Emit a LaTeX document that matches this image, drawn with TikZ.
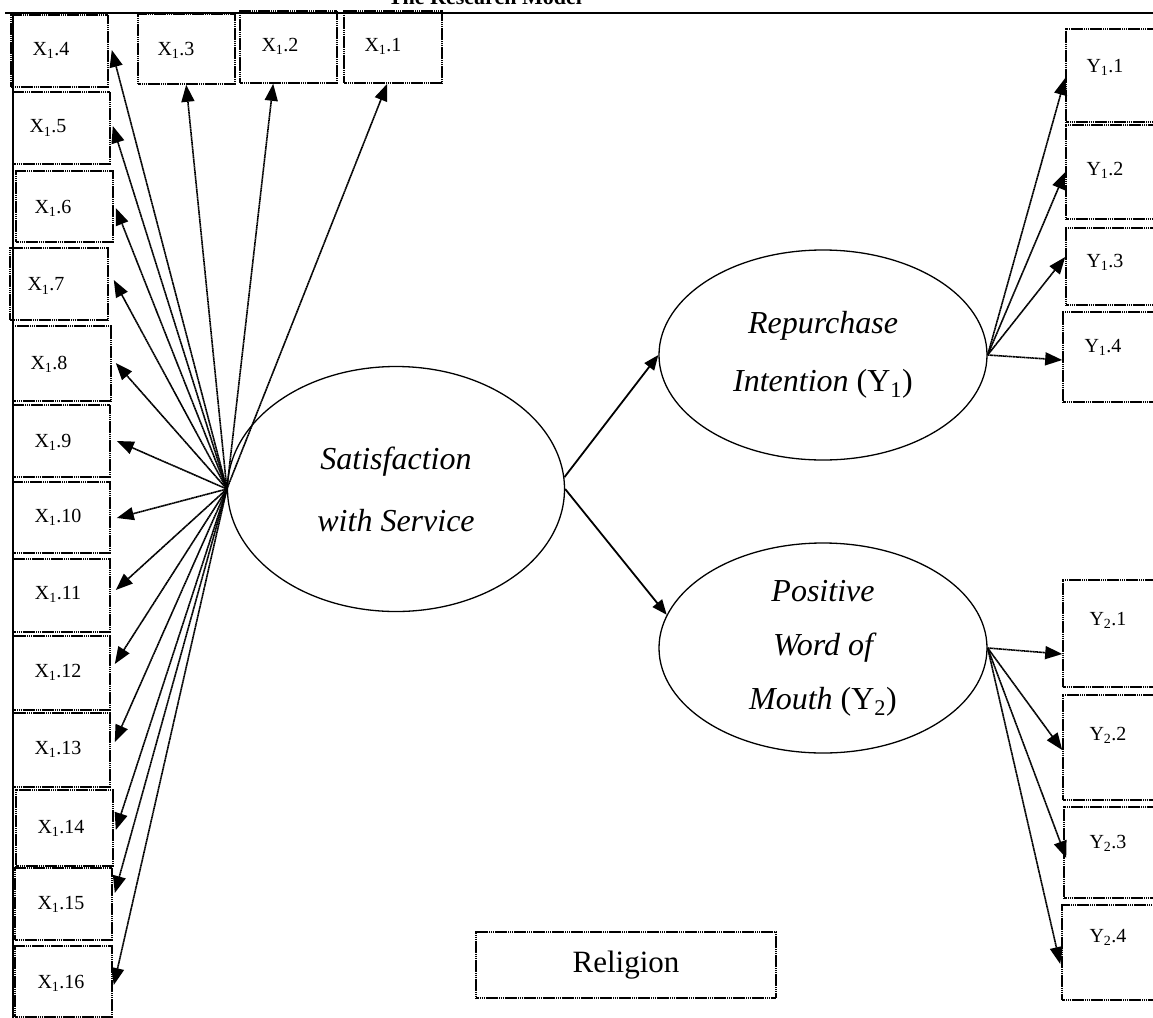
\documentclass[tikz,border=0pt]{standalone}
\usepackage{fontspec}
\setmainfont{Liberation Serif}
\usetikzlibrary{arrows.meta,shapes.geometric,fit,calc}
\begin{document}
\begin{tikzpicture}[x=1pt,y=-1pt,
  box/.style={draw, dash pattern=on 1.5pt off 0.4pt, line width=1.6pt, inner sep=0pt},
  lbl/.style={inner sep=0pt, font=\fontsize{20}{23}\selectfont},
  ell/.style={draw, ellipse, line width=1.3pt, inner sep=0pt, align=center},
  arr/.style={dash pattern=on 1.5pt off 0.4pt, line width=1.6pt, -{Triangle[length=17pt,width=13pt]}},
  sarr/.style={line width=1.8pt, -{Triangle[length=15pt,width=12pt]}}]
\useasboundingbox (0,0) rectangle (1153,1017);
% frame and title
\coordinate (tl) at (5,13);
\coordinate (tr) at (1160,13);
\coordinate (lt) at (13,13);
\coordinate (lb) at (13,1020);
\draw[line width=1.6pt] (tl) -- (tr);
\draw[line width=1.5pt] (lt) -- (lb);
\node[anchor=base, inner sep=0pt, font=\bfseries\fontsize{22}{24}\selectfont] (title) at (485,5) {The Research Model};
% top X boxes
\node[box, fit={(11,15) (108,87)}] (x14) {};
\node[box, fit={(138,14) (235,84)}] (x13) {};
\node[box, fit={(240,11) (337,83)}] (x12) {};
\node[box, fit={(344,11) (442,83)}] (x11) {};
\node[lbl] (x14t) at (51,50) {X\textsubscript{1}.4};
\node[lbl] (x13t) at (176,50) {X\textsubscript{1}.3};
\node[lbl] (x12t) at (280,46) {X\textsubscript{1}.2};
\node[lbl] (x11t) at (383,46) {X\textsubscript{1}.1};
% left column
\node[box, fit={(13,92) (110,164)}] (x15) {};
\node[box, fit={(16,171) (113,242)}] (x16) {};
\node[box, fit={(10,248) (108,320)}] (x17) {};
\node[box, fit={(13,326) (111,401)}] (x18) {};
\node[box, fit={(13,405) (110,477)}] (x19) {};
\node[box, fit={(13,482) (110,553)}] (x110) {};
\node[box, fit={(13,559) (110,632)}] (x111) {};
\node[box, fit={(13,636) (110,710)}] (x112) {};
\node[box, fit={(13,713) (110,787)}] (x113) {};
\node[box, fit={(16,790) (113,866)}] (x114) {};
\node[box, fit={(15,868) (112,940)}] (x115) {};
\node[box, fit={(15,946) (112,1017)}] (x116) {};
\node[lbl] (x15t) at (48,128) {X\textsubscript{1}.5};
\node[lbl] (x16t) at (53,208) {X\textsubscript{1}.6};
\node[lbl] (x17t) at (46,286) {X\textsubscript{1}.7};
\node[lbl] (x18t) at (49,364) {X\textsubscript{1}.8};
\node[lbl] (x19t) at (53,442) {X\textsubscript{1}.9};
\node[lbl] (x110t) at (58,517) {X\textsubscript{1}.10};
\node[lbl] (x111t) at (58,594) {X\textsubscript{1}.11};
\node[lbl] (x112t) at (58,672) {X\textsubscript{1}.12};
\node[lbl] (x113t) at (58,749) {X\textsubscript{1}.13};
\node[lbl] (x114t) at (61,828) {X\textsubscript{1}.14};
\node[lbl] (x115t) at (61,904) {X\textsubscript{1}.15};
\node[lbl] (x116t) at (61,983) {X\textsubscript{1}.16};
% Y boxes
\node[box, fit={(1066,29) (1165,122)}] (y11) {};
\node[box, fit={(1066,125) (1165,219)}] (y12) {};
\node[box, fit={(1066,228) (1165,305)}] (y13) {};
\node[box, fit={(1063,312) (1165,402)}] (y14) {};
\node[box, fit={(1063,580) (1165,687)}] (y21) {};
\node[box, fit={(1063,695) (1165,800)}] (y22) {};
\node[box, fit={(1064,807) (1165,898)}] (y23) {};
\node[box, fit={(1062,905) (1165,1000)}] (y24) {};
\node[lbl] (y11t) at (1105,67) {Y\textsubscript{1}.1};
\node[lbl] (y12t) at (1105,170) {Y\textsubscript{1}.2};
\node[lbl] (y13t) at (1105,262) {Y\textsubscript{1}.3};
\node[lbl] (y14t) at (1103,347) {Y\textsubscript{1}.4};
\node[lbl] (y21t) at (1108,620) {Y\textsubscript{2}.1};
\node[lbl] (y22t) at (1108,735) {Y\textsubscript{2}.2};
\node[lbl] (y23t) at (1108,843) {Y\textsubscript{2}.3};
\node[lbl] (y24t) at (1108,937) {Y\textsubscript{2}.4};
% Religion
\node[box, fit={(476,932) (776,998)}] (rel) {};
\node[inner sep=0pt, font=\fontsize{31}{34}\selectfont] (relt) at (626,965) {Religion};
% ellipses
\node[ell, minimum width=337pt, minimum height=245pt, font=\fontsize{32}{62}\selectfont] (sat) at (396,489) {\itshape Satisfaction\\\itshape with Service};
\node[ell, minimum width=328pt, minimum height=210pt, font=\fontsize{32}{58}\selectfont] (rep) at (823,355) {\itshape Repurchase\\\textit{Intention} (Y\textsubscript{1})};
\node[ell, minimum width=328pt, minimum height=210pt, font=\fontsize{32}{54}\selectfont] (pwom) at (823,648) {\itshape Positive\\\itshape Word of\\\textit{Mouth} (Y\textsubscript{2})};
% structural arrows
\draw[sarr] (sat.4) -- (rep.west);
\draw[sarr] (sat.east) -- (pwom.168);
% X arrows
\draw[arr] (sat.west) -- ($(x14.east |- 0,50)+(3,0)$);
\draw[arr] (sat.west) -- ($(x13.south west)+(49,0)$);
\draw[arr] (sat.west) -- ($(x12.south west)+(34,0)$);
\draw[arr] (sat.west) -- ($(x11.south west)+(44,0)$);
\draw[arr] (sat.west) -- ($(x15.east |- 0,126)+(2,0)$);
\draw[arr] (sat.west) -- ($(x16.east |- 0,208)+(2,0)$);
\draw[arr] (sat.west) -- ($(x17.east |- 0,280)+(5,0)$);
\draw[arr] (sat.west) -- ($(x18.east |- 0,363)+(4,0)$);
\draw[arr] (sat.west) -- ($(x19.east |- 0,441)+(6,0)$);
\draw[arr] (sat.west) -- ($(x110.east |- 0,518)+(6,0)$);
\draw[arr] (sat.west) -- ($(x111.east |- 0,590)+(5,0)$);
\draw[arr] (sat.west) -- ($(x112.east |- 0,664)+(4,0)$);
\draw[arr] (sat.west) -- ($(x113.east |- 0,742)+(4,0)$);
\draw[arr] (sat.west) -- ($(x114.east |- 0,830)+(2,0)$);
\draw[arr] (sat.west) -- ($(x115.east |- 0,893)+(2,0)$);
\draw[arr] (sat.west) -- ($(x116.east |- 0,985)+(1,0)$);
% Y arrows
\draw[arr] (rep.east) -- (y11.west |- 0,78);
\draw[arr] (rep.east) -- (y12.west |- 0,172);
\draw[arr] (rep.east) -- (y13.west |- 0,257);
\draw[arr] (rep.east) -- (y14.west |- 0,360);
\draw[arr] (pwom.east) -- (y21.west |- 0,654);
\draw[arr] (pwom.east) -- (y22.west |- 0,750);
\draw[arr] (pwom.east) -- ($(y23.west |- 0,858)+(3,0)$);
\draw[arr] (pwom.east) -- ($(y24.west |- 0,964)+(-1,0)$);
\end{tikzpicture}
\end{document}
